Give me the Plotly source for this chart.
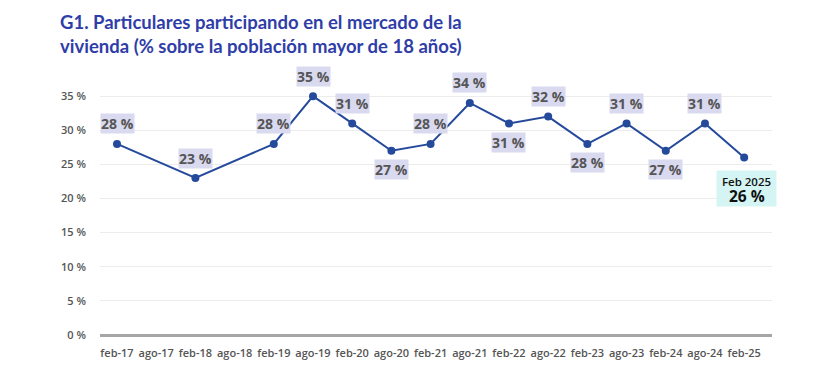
import plotly.graph_objects as go

categories = ["feb-17", "ago-17", "feb-18", "ago-18", "feb-19", "ago-19", "feb-20", "ago-20",
              "feb-21", "ago-21", "feb-22", "ago-22", "feb-23", "ago-23", "feb-24", "ago-24", "feb-25"]
point_dates = ["feb-17", "feb-18", "feb-19", "ago-19", "feb-20", "ago-20", "feb-21", "ago-21",
               "feb-22", "ago-22", "feb-23", "ago-23", "feb-24", "ago-24", "feb-25"]
values = [28, 23, 28, 35, 31, 27, 28, 34, 31, 32, 28, 31, 27, 31, 26]
label_side = ["up", "up", "up", "up", "up", "down", "up", "up",
              "down", "up", "down", "up", "down", "up", "tip"]
y_ticks = [0, 5, 10, 15, 20, 25, 30, 35]
y_tick_text = [f"{v} %" for v in y_ticks]
title_text = ("G1. Particulares participando en el mercado de la<br>"
              "vivienda (% sobre la población mayor de 18 años)")
tip_label = "Feb 2025"

LINE = "#254a9c"
GREY = "#555555"

fig = go.Figure()
fig.add_trace(go.Scatter(
    x=point_dates, y=values, mode="lines+markers",
    line=dict(color=LINE, width=2),
    marker=dict(color=LINE, size=8),
    hoverinfo="skip", showlegend=False,
))

for d, v, s in zip(point_dates, values, label_side):
    if s == "tip":
        fig.add_annotation(
            x=d, y=v, xref="x", yref="y", showarrow=False,
            text=f"<span style='font-weight:600'>{tip_label}</span>",
            font=dict(family="Open Sans", size=11.5, color="#111111"),
            bgcolor="#d4f5f3", borderpad=3, width=53, height=29, valign="top",
            yshift=-30.5, xshift=2.5,
        )
        fig.add_annotation(
            x=d, y=v, xref="x", yref="y", showarrow=False,
            text=f"<b>{v} %</b>",
            font=dict(family="Open Sans", size=15.5, color="#111111"),
            yshift=-38, xshift=2.5,
        )
    else:
        fig.add_annotation(
            x=d, y=v, xref="x", yref="y", showarrow=False,
            text=f"<b>{v} %</b>",
            font=dict(family="Open Sans", size=14, color=GREY),
            bgcolor="#d9d9f0", borderpad=0,
            yshift=20 if s == "up" else -19,
        )

fig.update_layout(
    width=837, height=385,
    margin=dict(l=92, r=73, t=54, b=58),
    paper_bgcolor="white", plot_bgcolor="white",
    title=dict(text=f"<b>{title_text}</b>", x=52/837, xref="container", xanchor="left",
               y=1 - 21/385, yref="container", yanchor="top",
               font=dict(family="Lato", size=18.5, color="#2f3da8")),
    xaxis=dict(type="category", categoryorder="array", categoryarray=categories,
               range=[-0.434, 16.71], showgrid=False, showline=False, zeroline=False,
               ticks="outside", ticklen=8, tickcolor="rgba(0,0,0,0)",
               tickfont=dict(family="Open Sans", size=11, color=GREY, weight=600)),
    yaxis=dict(range=[0, 40], tickvals=y_ticks, ticktext=y_tick_text,
               showgrid=True, gridcolor="#ececec", gridwidth=1,
               zeroline=True, zerolinecolor="#a6a6a6", zerolinewidth=2.5,
               showline=False, ticklabelstandoff=13,
               tickfont=dict(family="Open Sans", size=11, color=GREY, weight=600)),
)

fig.write_html("out.html")
